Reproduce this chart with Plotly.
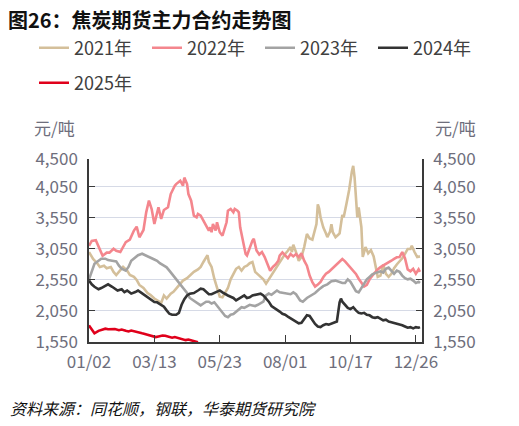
import plotly.graph_objects as go

# trading-day index (0 = first trading day of the year)
tick_idx = [0, 48, 96, 144, 192, 240]
tick_labels = ["01/02", "03/13", "05/23", "08/01", "10/17", "12/26"]

y_ticks = [1550, 2050, 2550, 3050, 3550, 4050, 4500]
y_ticklabels = ["1,550", "2,050", "2,550", "3,050", "3,550", "4,050", "4,500"]

x_2021 = [0, 3, 6, 8, 11, 13, 16, 18, 20, 22, 25, 28, 30, 33, 35, 37, 40, 43, 45, 48, 50, 53, 55, 57, 60, 62,
          64, 67, 69, 72, 74, 77, 80, 82, 84, 86, 87, 88, 90, 92, 94, 96, 98, 100, 102, 104, 106, 108, 110,
          112, 114, 116, 118, 120, 122, 124, 126, 128, 130, 132, 134, 136, 138, 140, 142, 144, 146, 148, 149,
          150, 152, 154, 156, 158, 160, 162, 164, 165, 166, 167, 168, 169, 170, 172, 174, 175, 177, 178, 179,
          181, 183, 184, 186, 187, 189, 191, 193, 194, 195, 196, 197, 198, 200, 201, 203, 205, 207, 209, 210,
          212, 214, 216, 218, 220, 222, 224, 226, 228, 230, 232, 234, 236, 237, 239, 241, 243]
y_2021 = [3000, 2890, 2820, 2760, 2780, 2740, 2760, 2680, 2630, 2680, 2760, 2700, 2630, 2600, 2550, 2470,
          2420, 2340, 2310, 2250, 2220, 2180, 2300, 2250, 2330, 2360, 2410, 2480, 2540, 2580, 2620, 2680,
          2720, 2760, 2840, 2900, 2950, 2840, 2760, 2570, 2440, 2280, 2270, 2350, 2420, 2560, 2640, 2730,
          2760, 2700, 2760, 2780, 2820, 2840, 2680, 2640, 2600, 2560, 2490, 2560, 2620, 2700, 2760, 2820,
          2900, 2970, 3020, 3080, 3000, 3120, 3000, 2860, 2920, 3080, 3290, 3220, 3200, 3290, 3340, 3450,
          3770, 3700, 3560, 3400, 3300, 3240, 3330, 3450, 3320, 3240, 3280, 3300, 3600, 3560, 3774, 4000,
          4300, 4390, 4204, 3830, 3560, 3720, 3400, 2920, 3080, 2980, 3030, 2930, 2810, 2600, 2620, 2800,
          2650, 2600, 2650, 2740, 2800, 2850, 2900, 2970, 3050, 3050, 3100, 3000, 2920, 2930]

x_2022 = [0, 2, 5, 8, 10, 13, 15, 18, 20, 23, 25, 27, 30, 33, 35, 37, 40, 42, 44, 46, 48, 51, 53, 55, 58, 60,
          63, 64, 67, 69, 70, 72, 73, 75, 77, 79, 80, 82, 84, 86, 88, 89, 90, 91, 93, 94, 95, 96, 98, 99,
          101, 102, 104, 106, 107, 109, 110, 111, 113, 115, 116, 118, 120, 121, 123, 125, 127, 129, 131,
          133, 135, 137, 139, 140, 142, 144, 146, 148, 150, 152, 154, 156, 158, 160, 162, 164, 166, 168,
          170, 172, 174, 176, 178, 180, 182, 184, 186, 188, 190, 192, 194, 196, 198, 200, 202, 204, 206,
          208, 210, 212, 214, 216, 218, 220, 222, 224, 226, 228, 230, 232, 234, 236, 238, 240, 242, 243]
y_2022 = [3100, 3180, 3190, 3027, 2940, 2990, 2990, 3054, 3020, 3000, 3080, 3160, 3200, 3346, 3410, 3238,
          3356, 3640, 3830, 3694, 3453, 3721, 3533, 3678, 3721, 3935, 4069, 4096, 4150, 4069, 4200, 4096,
          3935, 3828, 3587, 3560, 3614, 3587, 3506, 3426, 3346, 3399, 3319, 3453, 3346, 3480, 3399, 3319,
          3265, 3346, 3480, 3667, 3694, 3640, 3694, 3667, 3640, 3399, 3185, 2970, 2944, 3078, 3185, 3212,
          3024, 2960, 3000, 2920, 2810, 2700, 2760, 2800, 2860, 2942, 2995, 2950, 2900, 2968, 2930, 2968,
          2920, 2979, 2860, 2780, 2620, 2514, 2444, 2476, 2520, 2594, 2650, 2680, 2720, 2760, 2797, 2835,
          2888, 2850, 2800, 2760, 2700, 2647, 2570, 2500, 2444, 2470, 2560, 2620, 2680, 2720, 2756, 2780,
          2800, 2836, 2860, 2890, 2915, 2920, 3000, 2900, 2720, 2690, 2730, 2650, 2720, 2680]

x_2023 = [0, 2, 4, 7, 9, 12, 14, 17, 20, 22, 24, 27, 29, 31, 34, 36, 39, 41, 44, 46, 48, 50, 52, 55, 57, 59,
          62, 64, 67, 69, 72, 74, 77, 80, 82, 84, 86, 88, 90, 92, 94, 96, 98, 100, 102, 104, 106, 108, 110,
          112, 114, 116, 118, 120, 122, 124, 126, 128, 130, 132, 134, 136, 138, 140, 144, 148, 150, 152, 155,
          157, 160, 163, 166, 169, 172, 175, 178, 181, 184, 186, 188, 190, 192, 194, 196, 198, 200, 202,
          204, 206, 208, 210, 212, 214, 216, 218, 220, 222, 224, 226, 228, 230, 232, 234, 236, 238, 240,
          242, 243]
y_2023 = [2560, 2700, 2812, 2860, 2893, 2893, 2870, 2860, 2850, 2780, 2731, 2700, 2760, 2860, 2920, 2950,
          2973, 2950, 2920, 2890, 2880, 2860, 2820, 2780, 2754, 2700, 2620, 2560, 2480, 2420, 2340, 2260,
          2220, 2180, 2140, 2170, 2200, 2200, 2170, 2190, 2130, 2080, 2020, 1970, 1950, 1990, 2000, 2040,
          2070, 2110, 2100, 2120, 2150, 2140, 2130, 2150, 2170, 2200, 2300, 2330, 2310, 2350, 2380, 2350,
          2330, 2320, 2350, 2320, 2220, 2200, 2260, 2300, 2340, 2400, 2450, 2480, 2530, 2540, 2520, 2500,
          2500, 2560, 2520, 2450, 2370, 2350, 2420, 2500, 2560, 2600, 2640, 2660, 2680, 2690, 2670, 2730,
          2750, 2700, 2650, 2700, 2680, 2620, 2580, 2560, 2570, 2540, 2500, 2520, 2500]

x_2024 = [0, 2, 4, 7, 9, 12, 14, 17, 19, 21, 24, 26, 28, 31, 34, 36, 38, 41, 43, 45, 48, 50, 52, 55, 57, 59,
          61, 64, 66, 68, 70, 72, 74, 77, 80, 82, 84, 86, 88, 90, 92, 94, 96, 98, 100, 102, 104, 106, 108,
          110, 112, 114, 116, 118, 120, 122, 124, 126, 128, 130, 132, 134, 136, 138, 140, 142, 144, 146, 148,
          150, 152, 154, 156, 158, 160, 162, 164, 166, 168, 170, 172, 174, 176, 178, 180, 182, 184, 185,
          186, 188, 190, 192, 194, 196, 198, 200, 202, 204, 206, 208, 210, 212, 214, 216, 218, 220, 222,
          224, 226, 228, 230, 232, 234, 236, 238, 240, 242, 243]
y_2024 = [2543, 2480, 2440, 2400, 2420, 2460, 2480, 2440, 2410, 2380, 2400, 2355, 2380, 2330, 2355, 2380,
          2350, 2302, 2280, 2248, 2194, 2190, 2160, 2120, 2060, 2006, 1990, 1990, 2020, 2150, 2240, 2300,
          2329, 2340, 2380, 2409, 2400, 2360, 2320, 2320, 2340, 2370, 2382, 2350, 2320, 2300, 2280, 2260,
          2221, 2250, 2280, 2300, 2260, 2270, 2300, 2310, 2320, 2329, 2300, 2250, 2200, 2130, 2100, 2080,
          2040, 2005, 1990, 1960, 1930, 1900, 1870, 1850, 1860, 1930, 1980, 1970, 1900, 1840, 1800, 1790,
          1820, 1840, 1830, 1850, 1860, 1880, 2190, 2250, 2200, 2140, 2100, 2080, 2110, 2060, 2020, 2010,
          2020, 1990, 1980, 1950, 1940, 1950, 1920, 1900, 1910, 1880, 1870, 1860, 1850, 1840, 1820, 1800,
          1780, 1790, 1770, 1790, 1780, 1790]

x_2025 = [0, 2, 4, 7, 9, 12, 14, 17, 19, 22, 24, 27, 29, 31, 34, 36, 39, 41, 44, 46, 49, 51, 54, 56, 58, 61,
          63, 66, 68, 71, 73, 76, 78, 80]
y_2025 = [1818, 1750, 1690, 1730, 1740, 1765, 1755, 1765, 1760, 1740, 1750, 1730, 1720, 1735, 1715, 1700,
          1690, 1680, 1660, 1650, 1630, 1640, 1655, 1650, 1640, 1620, 1630, 1610, 1590, 1580, 1590, 1570,
          1560, 1545]

series = [
    ("2021年", x_2021, y_2021, "#d4bf9a"),
    ("2022年", x_2022, y_2022, "#f4868d"),
    ("2023年", x_2023, y_2023, "#a3a3a3"),
    ("2024年", x_2024, y_2024, "#333333"),
    ("2025年", x_2025, y_2025, "#e0001b"),
]

FONT = "Noto Sans CJK SC"
W, H = 519, 426
L, R, T, B = 89, 97, 159, 84
pw = W - L - R
ph = H - T - B

# legend item anchor positions (pixels: left of line sample, row centre)
legend_pos = [(34, 48), (147, 48), (260, 48), (373, 48), (34, 83)]

fig = go.Figure()
legend_layout = {}
for i, (name, xs, ys, col) in enumerate(series):
    lid = "legend" if i == 0 else f"legend{i + 1}"
    fig.add_trace(go.Scatter(
        x=xs, y=ys, name=name, mode="lines",
        line=dict(color=col, width=2.6), legend=lid,
    ))
    px, py = legend_pos[i]
    legend_layout[lid] = dict(
        orientation="h", x=(px - L) / pw, xanchor="left",
        y=(H - B - py) / ph, yanchor="middle",
        font=dict(family=FONT, size=18, color="#404040"),
        bgcolor="rgba(0,0,0,0)", borderwidth=0,
    )

# invisible trace to carry the right axis
fig.add_trace(go.Scatter(x=[0], y=[1550], yaxis="y2", showlegend=False,
                         mode="markers", marker=dict(opacity=0), hoverinfo="skip"))

tickfont = dict(family=FONT, size=17, color="#6e6e7c")


def ann(text, x, y, **kw):
    d = dict(text=text, x=(x - L) / pw, y=(H - B - y) / ph, xref="paper", yref="paper",
             showarrow=False, xanchor="center", yanchor="middle")
    d.update(kw)
    return d


fig.update_layout(
    width=W, height=H,
    margin=dict(l=L, r=R, t=T, b=B, autoexpand=False),
    paper_bgcolor="white", plot_bgcolor="white",
    font=dict(family=FONT),
    title=dict(text="<b>图26：焦炭期货主力合约走势图</b>", x=8 / W, xanchor="left", xref="container",
               y=1 - 21 / H, yanchor="middle", yref="container",
               font=dict(family=FONT, size=20, color="#111111")),
    xaxis=dict(range=[0, 244.5], tickvals=tick_idx, ticktext=tick_labels, showgrid=False,
               showline=True, linecolor="#3a3a3a", linewidth=1.5, ticks="inside", ticklen=7,
               tickcolor="#3a3a3a", tickfont=tickfont, zeroline=False, ticklabelstandoff=4),
    yaxis=dict(range=[1550, 4500], tickvals=y_ticks, ticktext=y_ticklabels, showgrid=True,
               gridcolor="#d6dae6", gridwidth=1, showline=True, linecolor="#3a3a3a", linewidth=1.5,
               ticks="inside", ticklen=6, tickcolor="#3a3a3a", tickfont=tickfont, zeroline=False,
               ticklabelstandoff=6),
    yaxis2=dict(range=[1550, 4500], tickvals=y_ticks, ticktext=y_ticklabels, overlaying="y",
                side="right", showgrid=False, showline=True, linecolor="#3a3a3a", linewidth=1.5,
                ticks="inside", ticklen=6, tickcolor="#3a3a3a", tickfont=tickfont, zeroline=False,
                ticklabelstandoff=6),
    annotations=[
        ann("元/吨", 54, 127, font=dict(family=FONT, size=17, color="#6e6e7c")),
        ann("元/吨", 455, 127, font=dict(family=FONT, size=17, color="#6e6e7c")),
        ann("<i>资料来源：同花顺，钢联，华泰期货研究院</i>", 8, 408, xanchor="left",
            font=dict(family=FONT, size=16, color="#111111")),
    ],
    showlegend=True,
    **legend_layout,
)

fig.write_html("out.html", config={"displayModeBar": False},
               post_script="document.body.style.margin='0';document.body.style.overflow='hidden';")
